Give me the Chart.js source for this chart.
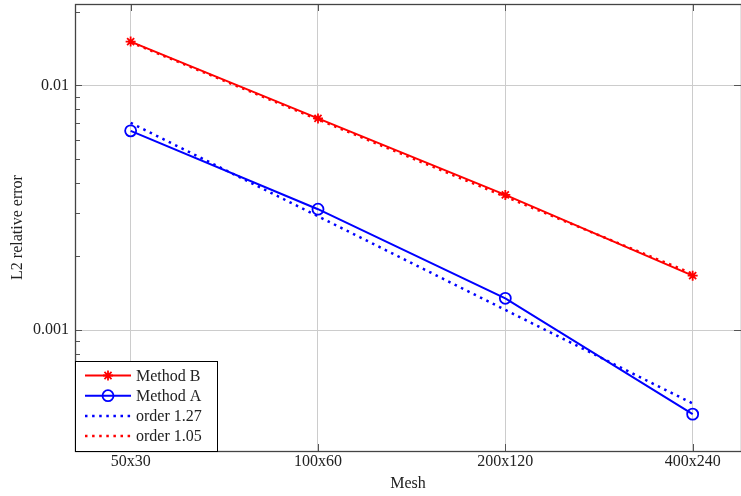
<!DOCTYPE html>
<html>
<head>
<meta charset="utf-8">
<script src="https://cdn.jsdelivr.net/npm/chart.js@4.4.1/dist/chart.umd.min.js"></script>
<style>
  html, body { margin: 0; padding: 0; background: #fff; }
  #wrap { width: 741px; height: 496px; }
</style>
</head>
<body>
<div id="wrap"><canvas id="errChart"></canvas></div>
<script>
// ------------------------------
// Data
// ------------------------------
const meshes = ["50x30", "100x60", "200x120", "400x240"];
const methodB = [0.0151, 0.00733, 0.00357, 0.00167];
const methodA = [0.00652, 0.00312, 0.00135, 0.000454];
const order127 = [0.00703, 0.00292, 0.00121, 0.000502];
const order105 = [0.0150, 0.00726, 0.00351, 0.00170];
const yMajorTicks = [0.001, 0.01];
const yTickLabels = ["0.001", "0.01"];

const SERIF = "'Liberation Serif', 'DejaVu Serif', serif";
const RED = "#ff0000";
const BLUE = "#0000ff";

function toPoints(vals) {
    return vals.map((v, i) => ({ x: i, y: v }));
}

// ------------------------------
// Frame, inner ticks, legend
// ------------------------------
const framePlugin = {
    id: "frame",
    afterDatasetsDraw(chart) {
        const { ctx, chartArea: a, scales } = chart;
        const xs = scales.x, ys = scales.y;
        ctx.save();
        ctx.strokeStyle = "#555";
        ctx.lineWidth = 1;

        // minor ticks on the left, major ticks both sides, pointing in
        const minors = [];
        for (let e = -4; e <= -1; e++) {
            for (let m = 1; m <= 9; m++) minors.push(m * Math.pow(10, e));
        }
        minors.forEach(v => {
            if (v < ys.min || v > ys.max) return;
            const y = Math.round(ys.getPixelForValue(v)) + 0.5;
            const major = yMajorTicks.includes(v);
            const len = major ? 7 : 5;
            ctx.beginPath();
            ctx.moveTo(a.left, y); ctx.lineTo(a.left + len, y);
            if (major) { ctx.moveTo(a.right, y); ctx.lineTo(a.right - len, y); }
            ctx.stroke();
        });

        // x ticks top and bottom
        meshes.forEach((_, i) => {
            const x = Math.round(xs.getPixelForValue(i)) + 0.5;
            ctx.beginPath();
            ctx.moveTo(x, a.top); ctx.lineTo(x, a.top + 7);
            ctx.moveTo(x, a.bottom); ctx.lineTo(x, a.bottom - 7);
            ctx.stroke();
        });

        // frame
        ctx.lineWidth = 1.3;
        ctx.strokeStyle = "#444";
        ctx.strokeRect(a.left + 0.5, a.top + 0.5, a.right - a.left, a.bottom - a.top);
        ctx.restore();
    },
    afterDraw(chart) {
        const { ctx, chartArea: a } = chart;
        const box = { x: a.left + 0.5, y: 361.5, w: 142, h: a.bottom - 361 };
        ctx.save();
        ctx.fillStyle = "#fff";
        ctx.fillRect(box.x, box.y, box.w, box.h);
        ctx.strokeStyle = "#000";
        ctx.lineWidth = 1;
        ctx.strokeRect(box.x, box.y, box.w, box.h);

        ctx.font = "16px " + SERIF;
        ctx.textBaseline = "middle";
        ctx.textAlign = "left";
        chart.data.datasets.forEach((ds, i) => {
            const y = 375.5 + i * 20.2;
            ctx.strokeStyle = ds.borderColor;
            ctx.lineWidth = ds.borderWidth;
            ctx.setLineDash(ds.borderDash || []);
            ctx.beginPath();
            ctx.moveTo(85, y);
            ctx.lineTo(131, y);
            ctx.stroke();
            ctx.setLineDash([]);
            if (ds.pointRadius > 0) {
                ctx.lineWidth = ds.pointBorderWidth;
                ctx.strokeStyle = ds.pointBorderColor;
                ctx.fillStyle = "rgba(0,0,0,0)";
                Chart.helpers.drawPoint(ctx, {
                    pointStyle: ds.pointStyle,
                    radius: ds.pointRadius,
                    rotation: 0,
                    borderWidth: ds.pointBorderWidth
                }, 108, y);
            }
            ctx.fillStyle = "#222";
            ctx.fillText(ds.label, 136, y + 1);
        });
        ctx.restore();
    }
};

// ------------------------------
// Chart
// ------------------------------
new Chart(document.getElementById("errChart"), {
    type: "line",
    data: {
        datasets: [
            {
                label: "Method B",
                data: toPoints(methodB),
                borderColor: RED,
                backgroundColor: "rgba(0,0,0,0)",
                borderWidth: 2,
                pointStyle: "star",
                pointRadius: 5,
                pointBorderWidth: 1.8,
                pointBorderColor: RED,
                order: 1
            },
            {
                label: "Method A",
                data: toPoints(methodA),
                borderColor: BLUE,
                backgroundColor: "rgba(0,0,0,0)",
                borderWidth: 2,
                pointStyle: "circle",
                pointRadius: 5.5,
                pointBorderWidth: 1.8,
                pointBorderColor: BLUE,
                pointBackgroundColor: "rgba(0,0,0,0)",
                order: 1
            },
            {
                label: "order 1.27",
                data: toPoints(order127),
                borderColor: BLUE,
                borderWidth: 2.5,
                borderDash: [2.5, 4.6],
                pointRadius: 0,
                order: 0
            },
            {
                label: "order 1.05",
                data: toPoints(order105),
                borderColor: RED,
                borderWidth: 2.5,
                borderDash: [2.5, 4.6],
                pointRadius: 0,
                order: 0
            }
        ]
    },
    options: {
        responsive: true,
        maintainAspectRatio: false,
        animation: false,
        layout: { autoPadding: false, padding: { top: 4, right: 0, bottom: 0, left: 0 } },
        plugins: {
            legend: { display: false },
            tooltip: { enabled: false }
        },
        scales: {
            x: {
                type: "linear",
                bounds: "data",
                min: -0.297,
                max: 3.258,
                afterBuildTicks: axis => {
                    axis.ticks = meshes.map((_, i) => ({ value: i }));
                },
                afterFit: axis => {
                    axis.height = 45;
                    axis.paddingLeft = 0;
                    axis.paddingRight = 0;
                },
                ticks: {
                    callback: v => meshes[v],
                    font: { family: SERIF, size: 16 },
                    color: "#222",
                    padding: 1,
                    maxRotation: 0,
                    autoSkip: false
                },
                grid: { color: "#cccccc", lineWidth: 1, drawTicks: false },
                border: { display: false },
                title: {
                    display: true,
                    text: "Mesh",
                    font: { family: SERIF, size: 16, lineHeight: 1.2 },
                    color: "#222",
                    padding: { top: 0, bottom: 2.4 }
                }
            },
            y: {
                type: "logarithmic",
                bounds: "data",
                min: 0.000321,
                max: 0.0215,
                afterBuildTicks: axis => {
                    axis.ticks = yMajorTicks.map(v => ({ value: v }));
                },
                afterFit: axis => {
                    axis.width = 75;
                    axis.paddingTop = 0;
                    axis.paddingBottom = 0;
                },
                ticks: {
                    callback: v => yTickLabels[yMajorTicks.indexOf(v)],
                    font: { family: SERIF, size: 16 },
                    color: "#222",
                    padding: 6
                },
                grid: { color: "#cccccc", lineWidth: 1, drawTicks: false },
                border: { display: false },
                title: {
                    display: true,
                    text: "L2 relative error",
                    font: { family: SERIF, size: 16, lineHeight: 1.2 },
                    color: "#222",
                    padding: { top: 8.4, bottom: 0 }
                }
            }
        }
    },
    plugins: [framePlugin]
});
</script>
</body>
</html>
